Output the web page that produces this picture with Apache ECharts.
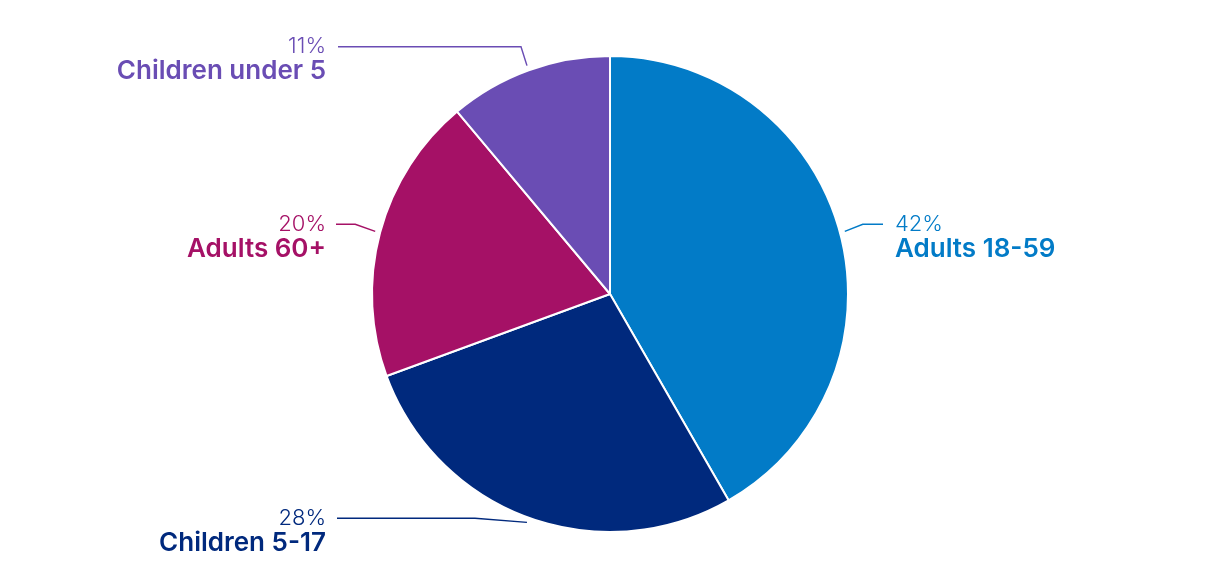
<!DOCTYPE html>
<html>
<head>
<meta charset="utf-8">
<script src="https://cdn.jsdelivr.net/npm/echarts@6/dist/echarts.min.js"></script>
<style>
html,body{margin:0;padding:0;background:#fff;}
#chart{width:1220px;height:568px;}
</style>
</head>
<body>
<div id="chart"></div>
<script>
const categories = ['Adults 18-59', 'Children 5-17', 'Adults 60+', 'Children under 5'];
const shares = [41.7, 27.7, 19.5, 11.1];
const colors = ['#027BC7', '#00297D', '#A51166', '#6A4DB4'];

// label layout (kink offset from line start, end x of line, text x, side)
const labelKinks = [[18, -7], [-52, -4], [-20, -7], [-6, -19]];
const lineEndX = [883, 337, 336, 338];
const textX = [895, 326, 326, 326];

const CX = 610, CY = 294, R = 238;

const chart = echarts.init(document.getElementById('chart'), null, {renderer: 'canvas'});
chart.setOption({
  animation: false,
  series: [{
    type: 'pie',
    center: [CX, CY],
    radius: R,
    startAngle: 90,
    clockwise: true,
    avoidLabelOverlap: false,
    itemStyle: {borderColor: '#fff', borderWidth: 2},
    emphasis: {disabled: true},
    data: categories.map((c, i) => ({
      name: c,
      value: shares[i],
      itemStyle: {color: colors[i]},
      label: {color: colors[i]},
      labelLine: {lineStyle: {color: colors[i]}}
    })),
    label: {
      show: true,
      position: 'outside',
      fontFamily: 'Inter',
      formatter: p => '{p|' + Math.round(p.value) + '%}\n{n|' + p.name + '}',
      rich: {
        p: {fontFamily: 'Inter', fontSize: 22, fontWeight: 300, lineHeight: 24},
        n: {fontFamily: 'Inter', fontSize: 26, fontWeight: 600, lineHeight: 26}
      }
    },
    labelLine: {show: true, length: 10, length2: 10, lineStyle: {width: 1.5}},
    labelLayout: function (params) {
      const i = params.dataIndex;
      const e = params.labelLinePoints ? params.labelLinePoints[0] : [CX, CY];
      const dx = e[0] - CX, dy = e[1] - CY, d = Math.sqrt(dx * dx + dy * dy) || 1;
      const p0 = [e[0] + dx / d * 5, e[1] + dy / d * 5];
      const p1 = [p0[0] + labelKinks[i][0], p0[1] + labelKinks[i][1]];
      const p2 = [lineEndX[i], p1[1]];
      return {
        x: textX[i],
        y: p1[1] - 12,
        align: i === 0 ? 'left' : 'right',
        verticalAlign: 'top',
        labelLinePoints: [p0, p1, p2]
      };
    }
  }]
});
</script>
</body>
</html>
